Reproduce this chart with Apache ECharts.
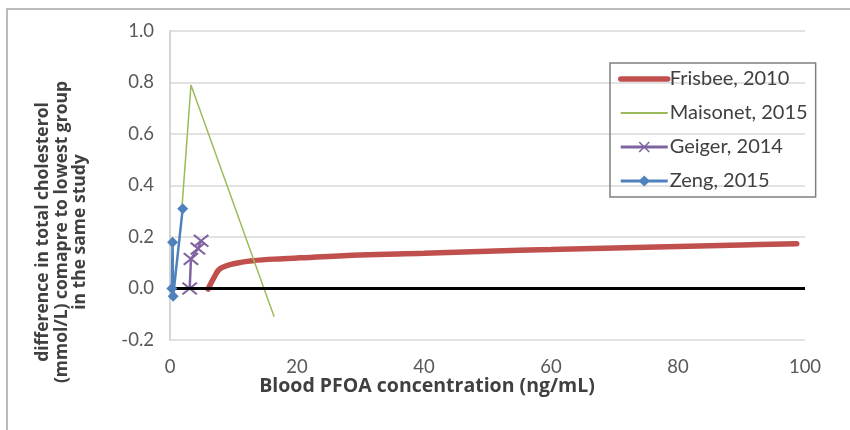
<!DOCTYPE html>
<html>
<head>
<meta charset="utf-8">
<script src="https://cdn.jsdelivr.net/npm/echarts@6/dist/echarts.min.js"></script>
<style>
  html, body { margin: 0; padding: 0; background: #fff; }
  #chart { width: 850px; height: 430px; }
</style>
</head>
<body>
<div id="chart"></div>
<script>
// x: blood PFOA (ng/mL), y: difference in total cholesterol (mmol/L)
var frisbeeX = [6.0, 7.1, 7.9, 10, 13, 17.8, 20.5, 30, 40, 50, 60, 70, 80, 90, 98.7];
var frisbeeY = [-0.002, 0.05, 0.077, 0.096, 0.108, 0.116, 0.119, 0.13, 0.137, 0.145, 0.151, 0.157, 0.163, 0.169, 0.174];

var maisonetX = [1.9, 3.3, 16.4];
var maisonetY = [0.32, 0.79, -0.11];

var geigerX = [3.1, 3.3, 4.4, 4.9];
var geigerY = [0.0, 0.115, 0.155, 0.185];

var zengX = [0.3, 0.4, 0.5, 2.0];
var zengY = [0.0, 0.18, -0.03, 0.31];

var seriesNames = ["Frisbee, 2010", "Maisonet, 2015", "Geiger, 2014", "Zeng, 2015"];
var xTicks = { min: 0, max: 100, interval: 20 };
var yTicks = { min: -0.2, max: 1.0, interval: 0.2 };

function pairs(xs, ys) {
  return xs.map(function (x, i) { return [x, ys[i]]; });
}

// filled "x" marker shape (Excel style)
var crossPath = "path://M0,1L1,0L5,4L9,0L10,1L6,5L10,9L9,10L5,6L1,10L0,9L4,5Z";

var chart = echarts.init(document.getElementById("chart"));
var font = "Lato";
var titleFont = "'Open Sans'";

chart.setOption({
  backgroundColor: "#fff",
  animation: false,
  grid: { left: 170, right: 45, top: 31, bottom: 90 },
  graphic: [
    {
      type: "rect",
      shape: { x: 7, y: 9, width: 900, height: 500 },
      style: { fill: "none", stroke: "#a6a6a6", lineWidth: 1.5 },
      silent: true
    },
    {
      type: "text",
      x: 427, y: 386,
      style: {
        text: "Blood PFOA concentration (ng/mL)",
        font: "bold 19.5px " + titleFont,
        fill: "#404040",
        align: "center", verticalAlign: "middle"
      }
    },
    {
      type: "text",
      x: 62, y: 232,
      rotation: Math.PI / 2,
      style: {
        text: "difference in total cholesterol\n(mmol/L) comapre to lowest group\nin the same study",
        font: "bold 17.5px " + titleFont,
        lineHeight: 18.5,
        fill: "#404040",
        align: "center", verticalAlign: "middle"
      }
    }
  ],
  legend: {
    data: [
      { name: seriesNames[0], itemStyle: { opacity: 0 }, lineStyle: { width: 5.5 } },
      { name: seriesNames[1], itemStyle: { opacity: 0 }, lineStyle: { width: 2 } },
      { name: seriesNames[2], lineStyle: { width: 3 } },
      { name: seriesNames[3], lineStyle: { width: 3 } }
    ],
    orient: "vertical",
    left: 610, top: 63,
    padding: [6, 8, 6, 8],
    itemGap: 14,
    itemWidth: 47,
    itemHeight: 14,
    borderColor: "#808080",
    borderWidth: 1.5,
    textStyle: { fontFamily: font, fontSize: 20, lineHeight: 20, color: "#404040", padding: [0, 0, 0, -3] }
  },
  xAxis: {
    type: "value",
    min: xTicks.min, max: xTicks.max, interval: xTicks.interval,
    axisLine: { show: false },
    axisTick: { show: false },
    splitLine: { show: false },
    axisLabel: { fontFamily: font, fontSize: 18.5, color: "#595959", margin: 18 }
  },
  yAxis: {
    type: "value",
    min: yTicks.min, max: yTicks.max, interval: yTicks.interval,
    axisLine: { show: true, lineStyle: { color: "#c8c8c8", width: 1.5 } },
    axisTick: { show: false },
    splitLine: { lineStyle: { color: "#d9d9d9", width: 1.5 } },
    axisLabel: {
      fontFamily: font, fontSize: 18.5, color: "#595959", margin: 16,
      formatter: function (v) { return v.toFixed(1); }
    }
  },
  series: [
    {
      name: "zero",
      type: "line",
      data: [],
      z: 2,
      markLine: {
        silent: true,
        symbol: "none",
        label: { show: false },
        lineStyle: { color: "#000", width: 3, type: "solid" },
        data: [{ yAxis: 0 }]
      }
    },
    {
      name: seriesNames[0],
      type: "line",
      data: pairs(frisbeeX, frisbeeY),
      smooth: 0.4,
      symbol: "none",
      z: 1,
      color: "#c0504d",
      lineStyle: { color: "#c0504d", width: 5.5, cap: "round" }
    },
    {
      name: seriesNames[1],
      type: "line",
      data: pairs(maisonetX, maisonetY),
      symbol: "none",
      z: 3,
      color: "#9bbb59",
      lineStyle: { color: "#9bbb59", width: 1.5 }
    },
    {
      name: seriesNames[2],
      type: "line",
      data: pairs(geigerX, geigerY),
      symbol: crossPath,
      symbolSize: [16, 13],
      z: 4,
      color: "#8064a2",
      itemStyle: { color: "#8064a2" },
      lineStyle: { color: "#8064a2", width: 2.5 }
    },
    {
      name: seriesNames[3],
      type: "line",
      data: pairs(zengX, zengY),
      symbol: "diamond",
      symbolSize: 11,
      z: 5,
      color: "#4f81bd",
      itemStyle: { color: "#4f81bd" },
      lineStyle: { color: "#4f81bd", width: 2.5 }
    }
  ]
});
</script>
</body>
</html>
